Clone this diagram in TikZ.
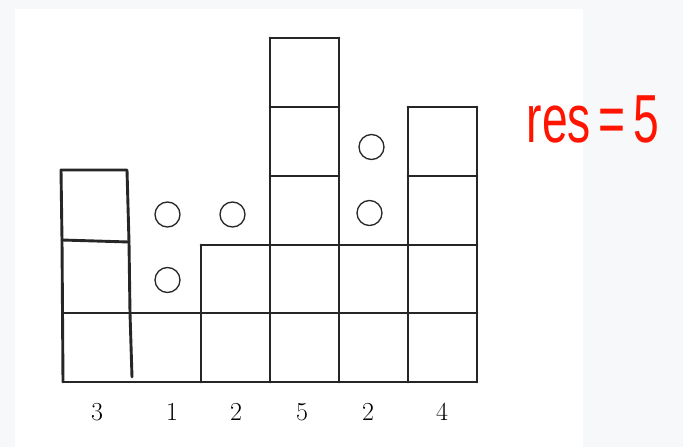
\documentclass[tikz,border=0pt]{standalone}
\usepackage{fontspec}
\newfontfamily\handfont{Liberation Sans}
\begin{document}
\begin{tikzpicture}[x=1pt,y=-1pt,
  wall/.style={line width=2.9pt,draw=black!85,line cap=round,line join=round},
  water/.style={circle,draw=black!85,line width=1.3pt,minimum size=25pt,inner sep=0pt},
  lbl/.style={font=\fontsize{26}{26}\selectfont,inner sep=0pt}]
\fill[fill={rgb,255:red,247;green,248;blue,250}] (0,0) rectangle (683,447);
\fill[white] (15,9) rectangle (583,447);
\useasboundingbox (0,0) rectangle (683,447);
% grid coordinates
\coordinate (b0) at (63,382); \coordinate (b1) at (132,382); \coordinate (b2) at (201,382);
\coordinate (b3) at (270,382); \coordinate (b4) at (339,382); \coordinate (b5) at (408,382);
\coordinate (b6) at (477,382);
% column 1 (hand drawn)
\coordinate (c1tl) at (61,170); \coordinate (c1tr) at (127,170);
\coordinate (c1ml) at (62,240); \coordinate (c1mr) at (129,242);
\coordinate (c1bl) at (63,313); \coordinate (c1br) at (130,313);
\coordinate (c1end) at (132,377);
\draw[wall] (b0) -- (c1ml) -- (c1tl) -- (c1tr) -- (c1mr) -- (c1br) -- (c1end);
\draw[wall] (c1ml) -- (c1mr);
% bottom line
\draw[wall] (b0) -- (b6);
% row at 313
\coordinate (r1l) at (63,313); \coordinate (r1r) at (477,313);
\draw[wall] (r1l) -- (r1r);
% row at 245
\coordinate (r2l) at (201,245); \coordinate (r2r) at (477,245);
\draw[wall] (r2l) -- (r2r);
% verticals
\coordinate (v2) at (201,245); \draw[wall] (b2) -- (v2);
\coordinate (v3) at (270,38); \draw[wall] (b3) -- (v3);
\coordinate (v4) at (339,38); \draw[wall] (b4) -- (v4);
\coordinate (v5) at (408,107); \draw[wall] (b5) -- (v5);
\coordinate (v6) at (477,107); \draw[wall] (b6) -- (v6);
% column 4 rows
\coordinate (c4a) at (270,176); \coordinate (c4b) at (339,176); \draw[wall] (c4a) -- (c4b);
\coordinate (c4c) at (270,107); \coordinate (c4d) at (339,107); \draw[wall] (c4c) -- (c4d);
\draw[wall] (v3) -- (v4);
% column 6 rows
\coordinate (c6a) at (408,176); \coordinate (c6b) at (477,176); \draw[wall] (c6a) -- (c6b);
\draw[wall] (v5) -- (v6);
% water circles
\node[water] (w1) at (167.5,214.5) {};
\node[water] (w2) at (167.5,280) {};
\node[water] (w3) at (232.5,214.5) {};
\node[water] (w4) at (371.5,147) {};
\node[water] (w5) at (369.5,213) {};
% labels
\node[lbl] (l1) at (97,412) {3};
\node[lbl] (l2) at (172,412) {1};
\node[lbl] (l3) at (236,412) {2};
\node[lbl] (l4) at (302,412) {5};
\node[lbl] (l5) at (368,412) {2};
\node[lbl] (l6) at (442,412) {4};
% result
\node[text={rgb,255:red,255;green,20;blue,0},font=\handfont\fontsize{68}{68}\selectfont,inner sep=0pt,xscale=0.68] (res) at (593,119) {res\,=\,5};
\end{tikzpicture}
\end{document}
